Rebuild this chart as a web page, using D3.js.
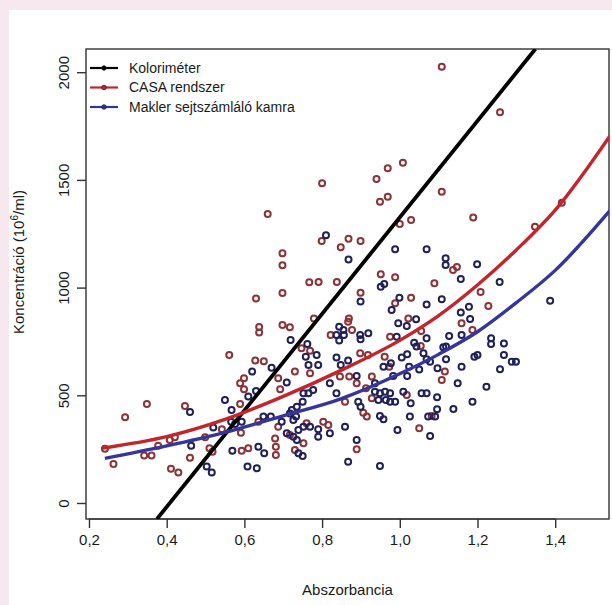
<!DOCTYPE html>
<head>
  <meta charset="utf-8">
  <title>Koncentráció és abszorbancia</title>
  <script src="https://d3js.org/d3.v7.min.js"></script>
  <style>
    html, body { margin: 0; padding: 0; background: #f6e8ee; }
    svg { display: block; font-family: "Liberation Sans", Arial, sans-serif; }
  </style>
</head>
<body>
  <div id="chart"></div>

  <script type="text/javascript">

    // Tick values on both axes
    var xTicks = [0.2, 0.4, 0.6, 0.8, 1.0, 1.2, 1.4];
    var yTicks = [0, 500, 1000, 1500, 2000];

    // Legend entries
    var seriesNames = ['Koloriméter', 'CASA rendszer', 'Makler sejtszámláló kamra'];

    // Measured points, CASA system (absorbance, concentration)
    var casaX = [1.108, 1.258, 1.008, 1.108, 1.029, 1.189, 1.348, 1.000, 1.137, 1.147,
      1.417, 0.969, 0.940, 0.969, 0.949, 0.800, 0.660, 0.799, 0.868, 0.899,
      0.848, 0.698, 0.698, 0.767, 0.791, 0.838, 0.951, 0.988, 1.089, 0.630,
      0.698, 0.899, 1.029, 0.988, 1.208, 1.228, 0.638, 0.638, 0.698, 0.717,
      0.561, 0.628, 0.650, 0.589, 0.599, 0.599, 0.687, 0.692, 0.589, 0.349,
      0.293, 0.447, 0.542, 0.591, 0.636, 0.687, 0.241, 0.263, 0.342, 0.361,
      0.378, 0.421, 0.408, 0.460, 0.411, 0.430, 0.499, 0.510, 0.518, 0.593,
      0.610, 0.679, 0.681, 0.681, 0.717, 1.159, 1.187, 0.779, 0.869, 0.867,
      0.877, 0.822, 1.022, 0.975, 1.054, 0.747, 0.769, 0.898, 0.918, 0.961,
      0.973, 1.116, 0.730, 0.769, 0.846, 0.870, 0.928, 0.889, 0.913, 1.108,
      0.859, 0.928, 1.018, 0.906, 0.915, 1.050, 0.803, 0.816, 0.760, 0.752,
      0.730, 0.889, 1.055, 1.082];
    var casaY = [2025, 1814, 1580, 1445, 1314, 1325, 1283, 1295, 1082, 1096,
      1394, 1554, 1504, 1422, 1399, 1484, 1342, 1216, 1227, 1216,
      1187, 1159, 1104, 1025, 1026, 1026, 1062, 1048, 1020, 949,
      975, 976, 953, 927, 980, 915, 817, 791, 826, 816,
      687, 662, 658, 556, 579, 528, 579, 528, 460, 460,
      398, 450, 342, 326, 377, 354, 252, 181, 221, 221,
      266, 305, 292, 210, 159, 141, 305, 254, 238, 243,
      254, 300, 261, 223, 316, 834, 803, 857, 857, 842,
      803, 780, 857, 772, 729, 718, 707, 695, 687, 679,
      633, 610, 610, 602, 587, 587, 587, 556, 533, 571,
      470, 486, 501, 419, 401, 347, 377, 362, 370, 277,
      246, 249, 798, 404];

    // Measured points, Makler counting chamber
    var maklerX = [0.810, 0.868, 0.988, 1.069, 1.118, 1.118, 1.157, 1.199, 1.257, 0.951,
      0.960, 0.899, 0.999, 1.069, 1.108, 1.178, 1.387, 0.719, 0.670, 0.620,
      0.630, 0.709, 0.610, 0.550, 0.567, 0.460, 0.520, 0.566, 0.576, 0.593,
      0.649, 0.668, 0.696, 0.722, 0.709, 0.463, 0.503, 0.516, 0.569, 0.608,
      0.632, 0.636, 0.651, 0.979, 1.157, 1.181, 0.844, 0.855, 0.837, 0.856,
      0.844, 0.898, 0.919, 0.899, 0.996, 1.018, 1.042, 0.992, 1.069, 1.037,
      1.043, 1.127, 1.159, 1.119, 1.192, 1.200, 0.762, 0.758, 0.786, 0.837,
      0.848, 0.867, 0.977, 1.005, 1.019, 0.958, 1.024, 1.097, 1.159, 0.765,
      0.790, 0.820, 0.889, 0.936, 0.983, 1.019, 1.149, 1.223, 0.777, 0.765,
      0.752, 0.837, 0.893, 0.899, 0.936, 0.949, 0.962, 0.975, 0.945, 0.964,
      0.975, 0.988, 1.009, 1.056, 1.069, 1.096, 1.028, 1.138, 1.187, 1.096,
      1.091, 1.073, 1.026, 0.949, 0.958, 1.078, 0.994, 0.859, 0.820, 0.790,
      0.790, 0.769, 0.752, 0.739, 0.733, 0.717, 0.726, 0.750, 0.735, 0.726,
      0.735, 0.739, 0.750, 0.889, 0.867, 0.949, 1.061, 1.078, 1.069, 1.112,
      1.119, 1.235, 1.235, 1.268, 1.268, 1.288, 1.299, 1.258, 1.050];
    var maklerY = [1243, 1131, 1178, 1178, 1136, 1105, 1040, 1108, 1026, 1004,
      1017, 935, 953, 922, 946, 911, 939, 757, 628, 610,
      520, 559, 494, 478, 432, 422, 350, 377, 367, 377,
      401, 401, 377, 432, 324, 266, 169, 141, 243, 169,
      161, 261, 231, 896, 884, 854, 818, 803, 780, 780,
      754, 780, 788, 760, 834, 822, 853, 772, 765, 744,
      726, 775, 780, 726, 679, 687, 738, 679, 687, 676,
      641, 661, 649, 676, 690, 633, 633, 625, 633, 641,
      641, 556, 590, 556, 590, 590, 556, 540, 525, 509,
      509, 509, 470, 447, 517, 509, 517, 509, 478, 478,
      470, 470, 517, 509, 509, 491, 463, 436, 470, 435,
      401, 401, 401, 404, 389, 311, 339, 354, 324, 308,
      342, 354, 354, 339, 401, 416, 385, 470, 447, 308,
      292, 231, 218, 292, 192, 172, 695, 656, 667, 723,
      667, 765, 738, 741, 687, 656, 656, 621, 620];

    // Fitted curves
    var kolX = [0.375, 1.349];
    var kolY = [-74, 2108];
    var casaFitX = [0.236, 0.40, 0.55, 0.70, 0.85, 1.00, 1.10, 1.20, 1.30, 1.40, 1.546];
    var casaFitY = [255, 308, 388, 495, 617, 755, 870, 1012, 1175, 1360, 1718];
    var maklerFitX = [0.241, 0.40, 0.55, 0.70, 0.85, 1.00, 1.10, 1.20, 1.30, 1.40, 1.546];
    var maklerFitY = [207, 265, 328, 405, 485, 600, 690, 795, 930, 1080, 1368];

    // Colours
    var lineColors = ['#000000', '#c2262c', '#35359a'];
    var casaPointColor = '#8c3338';
    var maklerPointColor = '#20205a';

    // Page size and plot area
    var width = 612;
    var height = 605;
    var plot = { left: 86, right: 609, top: 49, bottom: 519 };

    // Scales (domain matches the plot box of the original)
    var xScale = d3.scaleLinear()
      .domain([0.1923, 1.5385])
      .range([plot.left, plot.right]);
    var yScale = d3.scaleLinear()
      .domain([-74.3, 2107.7])
      .range([plot.bottom, plot.top]);

    var svg = d3.select('#chart')
      .append('svg')
        .attr('width', width)
        .attr('height', height);

    // White panel, pink border at left and top
    svg.append('rect')
      .attr('x', 9)
      .attr('y', 10)
      .attr('width', width - 9)
      .attr('height', height - 10)
      .attr('fill', '#ffffff');

    // Clip everything inside the box
    svg.append('clipPath')
        .attr('id', 'plotClip')
      .append('rect')
        .attr('x', plot.left)
        .attr('y', plot.top)
        .attr('width', plot.right - plot.left)
        .attr('height', plot.bottom - plot.top);

    // x axis (R style: line only from first to last tick)
    var xAxis = d3.axisBottom(xScale)
      .tickValues(xTicks)
      .tickSize(9)
      .tickPadding(6)
      .tickFormat(function (d) { return d3.format('.1f')(d).replace('.', ','); });

    var gx = svg.append('g')
      .attr('transform', 'translate(0,' + plot.bottom + ')')
      .call(xAxis);
    gx.select('.domain')
      .attr('d', 'M' + xScale(xTicks[0]) + ',0H' + xScale(xTicks[xTicks.length - 1]));
    gx.selectAll('line').attr('stroke', '#333').attr('stroke-width', 1.4);
    gx.selectAll('text')
      .attr('fill', '#1a1a1a')
      .style('font-size', '15px');

    // y axis with rotated labels
    var yAxis = d3.axisLeft(yScale)
      .tickValues(yTicks)
      .tickSize(9)
      .tickFormat(d3.format('d'));

    var gy = svg.append('g')
      .attr('transform', 'translate(' + plot.left + ',0)')
      .call(yAxis);
    gy.select('.domain').remove();
    gy.selectAll('line').attr('stroke', '#333').attr('stroke-width', 1.4);
    gy.selectAll('text')
      .attr('fill', '#1a1a1a')
      .attr('x', null)
      .attr('dy', null)
      .attr('transform', 'translate(-17,0) rotate(-90)')
      .style('text-anchor', 'middle')
      .style('font-size', '15px');

    // Box around the plot
    svg.append('rect')
      .attr('x', plot.left)
      .attr('y', plot.top)
      .attr('width', plot.right - plot.left)
      .attr('height', plot.bottom - plot.top)
      .attr('fill', 'none')
      .attr('stroke', '#333')
      .attr('stroke-width', 1.4);

    // Axis titles
    svg.append('text')
      .attr('x', (plot.left + plot.right) / 2)
      .attr('y', 595)
      .attr('fill', '#1a1a1a')
      .style('text-anchor', 'middle')
      .style('font-size', '15px')
      .text('Abszorbancia');

    svg.append('text')
      .attr('transform', 'translate(24,262) rotate(-90)')
      .attr('fill', '#1a1a1a')
      .style('text-anchor', 'middle')
      .style('font-size', '15px')
      .text('Koncentráció (10')
      .append('tspan')
        .attr('dy', -6)
        .style('font-size', '10px')
        .text('6')
      .select(function () { return this.parentNode; })
      .append('tspan')
        .attr('dy', 6)
        .text('/ml)');

    var plotArea = svg.append('g')
      .attr('clip-path', 'url(#plotClip)');

    // Scatter points
    plotArea.selectAll('circle.casa')
        .data(d3.range(casaX.length))
        .enter()
      .append('circle')
        .attr('class', 'casa')
        .attr('cx', function (i) { return xScale(casaX[i]); })
        .attr('cy', function (i) { return yScale(casaY[i]); })
        .attr('r', 3)
        .attr('fill', 'none')
        .attr('stroke', casaPointColor)
        .attr('stroke-width', 2);

    plotArea.selectAll('circle.makler')
        .data(d3.range(maklerX.length))
        .enter()
      .append('circle')
        .attr('class', 'makler')
        .attr('cx', function (i) { return xScale(maklerX[i]); })
        .attr('cy', function (i) { return yScale(maklerY[i]); })
        .attr('r', 3)
        .attr('fill', 'none')
        .attr('stroke', maklerPointColor)
        .attr('stroke-width', 2);

    // Fitted lines
    var line = d3.line()
      .x(function (d) { return xScale(d[0]); })
      .y(function (d) { return yScale(d[1]); })
      .curve(d3.curveMonotoneX);

    var fits = [
      d3.zip(kolX, kolY),
      d3.zip(casaFitX, casaFitY),
      d3.zip(maklerFitX, maklerFitY)
    ];

    plotArea.selectAll('path.fit')
        .data(fits)
        .enter()
      .append('path')
        .attr('class', 'fit')
        .attr('d', line)
        .attr('fill', 'none')
        .attr('stroke', function (d, i) { return lineColors[i]; })
        .attr('stroke-width', function (d, i) { return i === 0 ? 3.8 : 3.4; });

    // Legend in the top left corner
    var legend = svg.append('g')
      .attr('transform', 'translate(' + plot.left + ',' + plot.top + ')');

    var entry = legend.selectAll('g')
        .data(seriesNames)
        .enter()
      .append('g')
        .attr('transform', function (d, i) { return 'translate(0,' + (19 + i * 19.5) + ')'; });

    entry.append('line')
      .attr('x1', 4)
      .attr('x2', 32)
      .attr('stroke', function (d, i) { return lineColors[i]; })
      .attr('stroke-width', 2.2);

    entry.append('circle')
      .attr('cx', 18)
      .attr('r', 2.3)
      .attr('fill', function (d, i) { return lineColors[i]; })
      .attr('stroke', '#222')
      .attr('stroke-width', 0.8);

    entry.append('text')
      .attr('x', 43)
      .attr('dy', '0.35em')
      .attr('fill', '#1a1a1a')
      .style('font-size', '14px')
      .text(function (d) { return d; });

  </script>
</body>
